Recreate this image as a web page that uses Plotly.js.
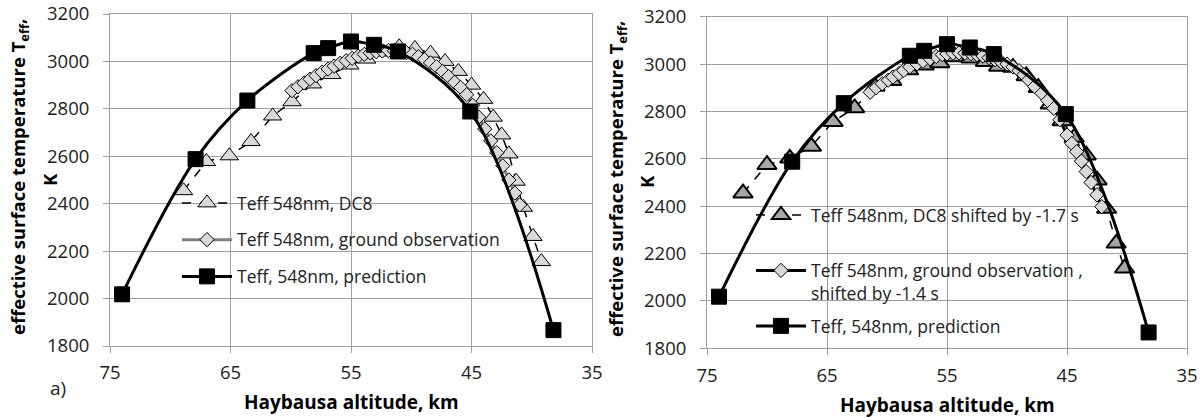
<!DOCTYPE html>
<html>
<head>
<meta charset="utf-8">
<script src="https://cdn.plot.ly/plotly-3.0.1.min.js"></script>
<style>html,body{margin:0;padding:0;background:#fff;}#chart{width:1203px;height:419px;}</style>
</head>
<body>
<div id="chart"></div>
<script>
// ---- data ----
const predKm = [74.0, 67.9, 63.6, 58.1, 56.9, 55.0, 53.1, 51.1, 45.1, 38.2];
const predK  = [2018, 2588, 2835, 3035, 3056, 3084, 3070, 3042, 2789, 1867];

const dc8Km = [68.9, 67.0, 65.1, 63.3, 61.5, 59.9, 58.2, 56.6, 55.1, 53.7, 52.3, 51.0, 49.7, 48.4, 47.2, 46.1, 45.0, 44.0, 43.2, 42.5, 41.9, 41.3, 40.7, 39.9, 39.2];
const dc8K  = [2455, 2578, 2602, 2662, 2770, 2830, 2905, 2945, 2985, 3010, 3040, 3062, 3055, 3035, 3000, 2958, 2900, 2840, 2765, 2690, 2610, 2495, 2385, 2262, 2156];

const groundKm = [59.9, 59.4, 58.9, 58.4, 57.9, 57.4, 56.9, 56.4, 55.9, 55.4, 54.9, 54.4, 53.9, 53.4, 52.9, 52.4, 51.9, 51.4, 50.9, 50.4, 49.9, 49.4, 48.9, 48.4, 47.9, 47.4, 46.9, 46.4, 45.9, 45.4, 44.9, 44.4, 43.9, 43.4, 42.9, 42.4, 41.9, 41.4, 41.0];
const groundK  = [2877, 2893, 2909, 2925, 2940, 2955, 2968, 2980, 2992, 3003, 3013, 3022, 3030, 3036, 3041, 3044, 3046, 3045, 3042, 3037, 3030, 3020, 3008, 2994, 2978, 2958, 2936, 2912, 2890, 2860, 2815, 2765, 2715, 2665, 2615, 2560, 2500, 2445, 2395];

const dc8ShKm = [72.0, 70.0, 68.1, 66.3, 64.5, 62.7, 61.0, 59.6, 58.2, 56.9, 55.6, 54.3, 53.0, 51.8, 50.7, 49.5, 48.4, 47.4, 46.4, 45.4, 44.4, 43.4, 42.5, 41.7, 40.9, 40.2];
const dc8ShK  = [2455, 2575, 2602, 2652, 2757, 2815, 2905, 2930, 2975, 2995, 3005, 3030, 3025, 3010, 2990, 2985, 2950, 2900, 2830, 2760, 2690, 2615, 2510, 2390, 2243, 2138];

const groundShKm = [61.4, 60.9, 60.4, 59.9, 59.5, 59.0, 58.6, 58.1, 57.5, 57.0, 56.4, 55.9, 55.4, 55.0, 54.5, 54.0, 53.5, 53.0, 52.5, 52.0, 51.5, 51.0, 50.5, 50.0, 49.5, 49.0, 48.6, 48.2, 47.7, 47.1, 46.6, 46.1, 45.6, 45.0, 44.6, 44.2, 43.8, 43.4, 43.0, 42.5, 42.1];
const groundShK  = [2881, 2900, 2917, 2932, 2945, 2960, 2973, 2988, 3001, 3012, 3022, 3032, 3040, 3043, 3046, 3047, 3046, 3044, 3040, 3034, 3027, 3018, 3010, 3000, 2988, 2972, 2955, 2933, 2905, 2877, 2846, 2813, 2765, 2700, 2665, 2630, 2590, 2546, 2500, 2448, 2398];

const xTicks = [75, 65, 55, 45, 35];
const yTicks = [1800, 2000, 2200, 2400, 2600, 2800, 3000, 3200];

const names = {
  dc8: 'Teff 548nm, DC8',
  ground: 'Teff 548nm, ground observation',
  pred: 'Teff, 548nm, prediction',
  dc8Sh: 'Teff 548nm, DC8 shifted by -1.7 s<br>\u00a0',
  groundSh: 'Teff 548nm, ground observation ,<br>shifted by -1.4 s',
  pred2: 'Teff, 548nm, prediction'
};

// ---- layout helpers ----
const W = 1203, H = 419;
const px = v => v / W;
const py = v => 1 - v / H;
const FONT = 'Open Sans, Noto Sans, DejaVu Sans, sans-serif';
const GRID = '#a0a0a0';

const traces = [
  {x: dc8Km, y: dc8K, name: names.dc8, xaxis: 'x', yaxis: 'y', legend: 'legend', legendgroup: 'a',
   mode: 'lines+markers', line: {color: '#000', width: 1.5, dash: 'dash'},
   marker: {symbol: 'triangle-up', size: 16, color: '#d9d9d9', line: {color: '#000', width: 1}}},
  {x: groundKm, y: groundK, name: names.ground, xaxis: 'x', yaxis: 'y', legend: 'legend', legendgroup: 'b',
   mode: 'lines+markers', line: {color: '#808080', width: 3},
   marker: {symbol: 'diamond', size: 11, color: '#d9d9d9', line: {color: '#000', width: 1}}},
  {x: predKm, y: predK, name: names.pred, xaxis: 'x', yaxis: 'y', legend: 'legend', legendgroup: 'c',
   mode: 'lines+markers', line: {color: '#000', width: 3, shape: 'spline', smoothing: 1},
   marker: {symbol: 'square', size: 15, color: '#000', line: {color: '#000', width: 1}}},

  {x: dc8ShKm, y: dc8ShK, name: names.dc8Sh, xaxis: 'x2', yaxis: 'y2', legend: 'legend2', legendgroup: 'd',
   mode: 'lines+markers', line: {color: '#000', width: 1.5, dash: 'dash'},
   marker: {symbol: 'triangle-up', size: 17, color: '#a6a6a6', line: {color: '#000', width: 2}}},
  {x: groundShKm, y: groundShK, name: names.groundSh, xaxis: 'x2', yaxis: 'y2', legend: 'legend2', legendgroup: 'e',
   mode: 'lines+markers', line: {color: '#000', width: 3},
   marker: {symbol: 'diamond', size: 11, color: '#d9d9d9', line: {color: '#000', width: 1}}},
  {x: predKm, y: predK, name: names.pred2, xaxis: 'x2', yaxis: 'y2', legend: 'legend2', legendgroup: 'f',
   mode: 'lines+markers', line: {color: '#000', width: 3, shape: 'spline', smoothing: 1},
   marker: {symbol: 'square', size: 15, color: '#000', line: {color: '#000', width: 1}}}
];

function xAxis(d0, d1, anchor) {
  return {domain: [px(d0), px(d1)], anchor: anchor, range: [75, 35], tickvals: xTicks, ticktext: xTicks.map(String),
    showgrid: true, gridcolor: GRID, gridwidth: 1, showline: true, linecolor: GRID, linewidth: 1, mirror: true,
    ticks: 'outside', ticklen: 6, tickcolor: GRID, ticklabelstandoff: 4, zeroline: false,
    tickfont: {family: FONT, size: 18.5, color: '#222'}};
}
function yAxis(top, bottom, anchor) {
  return {domain: [py(bottom), py(top)], anchor: anchor, range: [1800, 3200], tickvals: yTicks,
    showgrid: true, gridcolor: GRID, gridwidth: 1, showline: true, linecolor: GRID, linewidth: 1, mirror: true,
    ticks: 'outside', ticklen: 6, tickcolor: GRID, ticklabelstandoff: 10, zeroline: false,
    tickfont: {family: FONT, size: 18.5, color: '#222'}};
}

const titleFont = {family: FONT, size: 18.5, color: '#000', weight: 700};
const xTitleFont = {family: FONT, size: 19, color: '#000', weight: 700};
const layout = {
  width: W, height: H, margin: {l: 0, r: 0, t: 0, b: 0},
  paper_bgcolor: '#fff', plot_bgcolor: '#fff',
  showlegend: true,
  xaxis: xAxis(110, 592, 'y'),
  yaxis: yAxis(14, 346, 'x'),
  xaxis2: xAxis(707, 1187, 'y2'),
  yaxis2: yAxis(16.7, 348.3, 'x2'),
  legend: {x: px(177), y: py(185), xanchor: 'left', yanchor: 'top', bgcolor: 'rgba(0,0,0,0)',
    font: {family: FONT, size: 17.5, color: '#222'}, itemwidth: 50, traceorder: 'grouped', tracegroupgap: 11},
  legend2: {x: px(751), y: py(197), xanchor: 'left', yanchor: 'top', bgcolor: 'rgba(0,0,0,0)', valign: 'top',
    font: {family: FONT, size: 17.5, color: '#222'}, itemwidth: 50, traceorder: 'grouped', tracegroupgap: 7},
  annotations: [
    {text: 'effective surface temperature T<sub>eff</sub>,', x: px(19), y: py(177), xref: 'paper', yref: 'paper',
     textangle: -90, showarrow: false, xanchor: 'center', yanchor: 'middle', font: titleFont},
    {text: 'K', x: px(49), y: py(180), xref: 'paper', yref: 'paper',
     textangle: -90, showarrow: false, xanchor: 'center', yanchor: 'middle', font: titleFont},
    {text: 'effective surface temperature T<sub>eff</sub>,', x: px(617), y: py(179), xref: 'paper', yref: 'paper',
     textangle: -90, showarrow: false, xanchor: 'center', yanchor: 'middle', font: titleFont},
    {text: 'K', x: px(646), y: py(182), xref: 'paper', yref: 'paper',
     textangle: -90, showarrow: false, xanchor: 'center', yanchor: 'middle', font: titleFont},
    {text: 'Haybausa altitude, km', x: px(351), y: py(402), xref: 'paper', yref: 'paper',
     showarrow: false, xanchor: 'center', yanchor: 'middle', font: xTitleFont},
    {text: 'Haybausa altitude, km', x: px(947), y: py(405), xref: 'paper', yref: 'paper',
     showarrow: false, xanchor: 'center', yanchor: 'middle', font: xTitleFont},
    {text: 'a)', x: px(58), y: py(388), xref: 'paper', yref: 'paper',
     showarrow: false, xanchor: 'center', yanchor: 'middle', font: {family: FONT, size: 19, color: '#222'}}
  ]
};

Plotly.newPlot('chart', traces, layout, {staticPlot: true, displayModeBar: false});
</script>
</body>
</html>
